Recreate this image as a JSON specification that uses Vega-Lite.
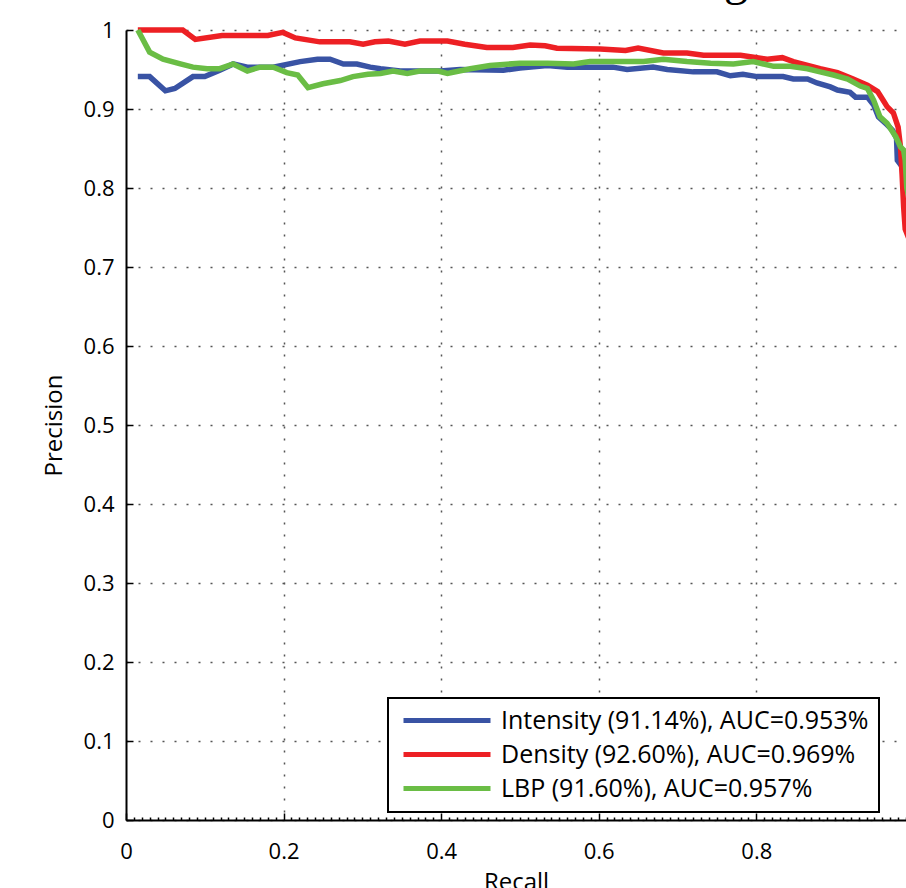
{
  "$schema": "https://vega.github.io/schema/vega-lite/v6.json",
  "autosize": {"type": "none"},
  "padding": {"left": 126, "top": 30, "right": 0, "bottom": 68},
  "width": 780,
  "height": 790,
  "background": "white",
  "title": {"text": "Precision-Recall Curve of Tracking", "anchor": "end", "frame": "group", "dx": -158, "offset": -24, "baseline": "alphabetic", "font": "Liberation Serif", "fontSize": 48, "fontWeight": "normal", "color": "black"},
  "data": {"values": [
    {"series": "Intensity (91.14%), AUC=0.953%", "recall": 0.015, "precision": 0.941},
    {"series": "Intensity (91.14%), AUC=0.953%", "recall": 0.030, "precision": 0.941},
    {"series": "Intensity (91.14%), AUC=0.953%", "recall": 0.050, "precision": 0.923},
    {"series": "Intensity (91.14%), AUC=0.953%", "recall": 0.062, "precision": 0.926},
    {"series": "Intensity (91.14%), AUC=0.953%", "recall": 0.085, "precision": 0.941},
    {"series": "Intensity (91.14%), AUC=0.953%", "recall": 0.100, "precision": 0.941},
    {"series": "Intensity (91.14%), AUC=0.953%", "recall": 0.119, "precision": 0.949},
    {"series": "Intensity (91.14%), AUC=0.953%", "recall": 0.136, "precision": 0.957},
    {"series": "Intensity (91.14%), AUC=0.953%", "recall": 0.154, "precision": 0.953},
    {"series": "Intensity (91.14%), AUC=0.953%", "recall": 0.187, "precision": 0.953},
    {"series": "Intensity (91.14%), AUC=0.953%", "recall": 0.221, "precision": 0.960},
    {"series": "Intensity (91.14%), AUC=0.953%", "recall": 0.243, "precision": 0.963},
    {"series": "Intensity (91.14%), AUC=0.953%", "recall": 0.259, "precision": 0.963},
    {"series": "Intensity (91.14%), AUC=0.953%", "recall": 0.276, "precision": 0.957},
    {"series": "Intensity (91.14%), AUC=0.953%", "recall": 0.293, "precision": 0.957},
    {"series": "Intensity (91.14%), AUC=0.953%", "recall": 0.310, "precision": 0.953},
    {"series": "Intensity (91.14%), AUC=0.953%", "recall": 0.323, "precision": 0.951},
    {"series": "Intensity (91.14%), AUC=0.953%", "recall": 0.348, "precision": 0.948},
    {"series": "Intensity (91.14%), AUC=0.953%", "recall": 0.399, "precision": 0.948},
    {"series": "Intensity (91.14%), AUC=0.953%", "recall": 0.424, "precision": 0.950},
    {"series": "Intensity (91.14%), AUC=0.953%", "recall": 0.479, "precision": 0.949},
    {"series": "Intensity (91.14%), AUC=0.953%", "recall": 0.500, "precision": 0.952},
    {"series": "Intensity (91.14%), AUC=0.953%", "recall": 0.535, "precision": 0.955},
    {"series": "Intensity (91.14%), AUC=0.953%", "recall": 0.560, "precision": 0.953},
    {"series": "Intensity (91.14%), AUC=0.953%", "recall": 0.618, "precision": 0.953},
    {"series": "Intensity (91.14%), AUC=0.953%", "recall": 0.636, "precision": 0.950},
    {"series": "Intensity (91.14%), AUC=0.953%", "recall": 0.669, "precision": 0.953},
    {"series": "Intensity (91.14%), AUC=0.953%", "recall": 0.687, "precision": 0.950},
    {"series": "Intensity (91.14%), AUC=0.953%", "recall": 0.720, "precision": 0.947},
    {"series": "Intensity (91.14%), AUC=0.953%", "recall": 0.750, "precision": 0.947},
    {"series": "Intensity (91.14%), AUC=0.953%", "recall": 0.767, "precision": 0.942},
    {"series": "Intensity (91.14%), AUC=0.953%", "recall": 0.783, "precision": 0.944},
    {"series": "Intensity (91.14%), AUC=0.953%", "recall": 0.801, "precision": 0.941},
    {"series": "Intensity (91.14%), AUC=0.953%", "recall": 0.834, "precision": 0.941},
    {"series": "Intensity (91.14%), AUC=0.953%", "recall": 0.847, "precision": 0.938},
    {"series": "Intensity (91.14%), AUC=0.953%", "recall": 0.865, "precision": 0.938},
    {"series": "Intensity (91.14%), AUC=0.953%", "recall": 0.877, "precision": 0.933},
    {"series": "Intensity (91.14%), AUC=0.953%", "recall": 0.894, "precision": 0.928},
    {"series": "Intensity (91.14%), AUC=0.953%", "recall": 0.903, "precision": 0.924},
    {"series": "Intensity (91.14%), AUC=0.953%", "recall": 0.919, "precision": 0.921},
    {"series": "Intensity (91.14%), AUC=0.953%", "recall": 0.926, "precision": 0.915},
    {"series": "Intensity (91.14%), AUC=0.953%", "recall": 0.941, "precision": 0.915},
    {"series": "Intensity (91.14%), AUC=0.953%", "recall": 0.949, "precision": 0.905},
    {"series": "Intensity (91.14%), AUC=0.953%", "recall": 0.955, "precision": 0.890},
    {"series": "Intensity (91.14%), AUC=0.953%", "recall": 0.966, "precision": 0.880},
    {"series": "Intensity (91.14%), AUC=0.953%", "recall": 0.973, "precision": 0.873},
    {"series": "Intensity (91.14%), AUC=0.953%", "recall": 0.978, "precision": 0.863},
    {"series": "Intensity (91.14%), AUC=0.953%", "recall": 0.979, "precision": 0.835},
    {"series": "Intensity (91.14%), AUC=0.953%", "recall": 0.985, "precision": 0.827},
    {"series": "Intensity (91.14%), AUC=0.953%", "recall": 1.000, "precision": 0.790},
    {"series": "Density (92.60%), AUC=0.969%", "recall": 0.015, "precision": 1.000},
    {"series": "Density (92.60%), AUC=0.969%", "recall": 0.072, "precision": 1.000},
    {"series": "Density (92.60%), AUC=0.969%", "recall": 0.088, "precision": 0.988},
    {"series": "Density (92.60%), AUC=0.969%", "recall": 0.122, "precision": 0.993},
    {"series": "Density (92.60%), AUC=0.969%", "recall": 0.180, "precision": 0.993},
    {"series": "Density (92.60%), AUC=0.969%", "recall": 0.199, "precision": 0.997},
    {"series": "Density (92.60%), AUC=0.969%", "recall": 0.215, "precision": 0.990},
    {"series": "Density (92.60%), AUC=0.969%", "recall": 0.246, "precision": 0.985},
    {"series": "Density (92.60%), AUC=0.969%", "recall": 0.284, "precision": 0.985},
    {"series": "Density (92.60%), AUC=0.969%", "recall": 0.301, "precision": 0.982},
    {"series": "Density (92.60%), AUC=0.969%", "recall": 0.316, "precision": 0.985},
    {"series": "Density (92.60%), AUC=0.969%", "recall": 0.333, "precision": 0.986},
    {"series": "Density (92.60%), AUC=0.969%", "recall": 0.354, "precision": 0.982},
    {"series": "Density (92.60%), AUC=0.969%", "recall": 0.373, "precision": 0.986},
    {"series": "Density (92.60%), AUC=0.969%", "recall": 0.408, "precision": 0.986},
    {"series": "Density (92.60%), AUC=0.969%", "recall": 0.430, "precision": 0.982},
    {"series": "Density (92.60%), AUC=0.969%", "recall": 0.458, "precision": 0.978},
    {"series": "Density (92.60%), AUC=0.969%", "recall": 0.491, "precision": 0.978},
    {"series": "Density (92.60%), AUC=0.969%", "recall": 0.513, "precision": 0.981},
    {"series": "Density (92.60%), AUC=0.969%", "recall": 0.532, "precision": 0.980},
    {"series": "Density (92.60%), AUC=0.969%", "recall": 0.547, "precision": 0.977},
    {"series": "Density (92.60%), AUC=0.969%", "recall": 0.602, "precision": 0.976},
    {"series": "Density (92.60%), AUC=0.969%", "recall": 0.634, "precision": 0.974},
    {"series": "Density (92.60%), AUC=0.969%", "recall": 0.650, "precision": 0.977},
    {"series": "Density (92.60%), AUC=0.969%", "recall": 0.682, "precision": 0.971},
    {"series": "Density (92.60%), AUC=0.969%", "recall": 0.712, "precision": 0.971},
    {"series": "Density (92.60%), AUC=0.969%", "recall": 0.733, "precision": 0.968},
    {"series": "Density (92.60%), AUC=0.969%", "recall": 0.780, "precision": 0.968},
    {"series": "Density (92.60%), AUC=0.969%", "recall": 0.814, "precision": 0.963},
    {"series": "Density (92.60%), AUC=0.969%", "recall": 0.833, "precision": 0.965},
    {"series": "Density (92.60%), AUC=0.969%", "recall": 0.847, "precision": 0.960},
    {"series": "Density (92.60%), AUC=0.969%", "recall": 0.881, "precision": 0.951},
    {"series": "Density (92.60%), AUC=0.969%", "recall": 0.903, "precision": 0.946},
    {"series": "Density (92.60%), AUC=0.969%", "recall": 0.923, "precision": 0.938},
    {"series": "Density (92.60%), AUC=0.969%", "recall": 0.941, "precision": 0.930},
    {"series": "Density (92.60%), AUC=0.969%", "recall": 0.954, "precision": 0.922},
    {"series": "Density (92.60%), AUC=0.969%", "recall": 0.961, "precision": 0.911},
    {"series": "Density (92.60%), AUC=0.969%", "recall": 0.966, "precision": 0.903},
    {"series": "Density (92.60%), AUC=0.969%", "recall": 0.974, "precision": 0.895},
    {"series": "Density (92.60%), AUC=0.969%", "recall": 0.980, "precision": 0.877},
    {"series": "Density (92.60%), AUC=0.969%", "recall": 0.983, "precision": 0.852},
    {"series": "Density (92.60%), AUC=0.969%", "recall": 0.985, "precision": 0.818},
    {"series": "Density (92.60%), AUC=0.969%", "recall": 0.987, "precision": 0.776},
    {"series": "Density (92.60%), AUC=0.969%", "recall": 0.989, "precision": 0.748},
    {"series": "Density (92.60%), AUC=0.969%", "recall": 1.000, "precision": 0.720},
    {"series": "LBP (91.60%), AUC=0.957%", "recall": 0.015, "precision": 1.000},
    {"series": "LBP (91.60%), AUC=0.957%", "recall": 0.030, "precision": 0.972},
    {"series": "LBP (91.60%), AUC=0.957%", "recall": 0.047, "precision": 0.963},
    {"series": "LBP (91.60%), AUC=0.957%", "recall": 0.069, "precision": 0.957},
    {"series": "LBP (91.60%), AUC=0.957%", "recall": 0.085, "precision": 0.953},
    {"series": "LBP (91.60%), AUC=0.957%", "recall": 0.103, "precision": 0.951},
    {"series": "LBP (91.60%), AUC=0.957%", "recall": 0.119, "precision": 0.951},
    {"series": "LBP (91.60%), AUC=0.957%", "recall": 0.136, "precision": 0.957},
    {"series": "LBP (91.60%), AUC=0.957%", "recall": 0.154, "precision": 0.948},
    {"series": "LBP (91.60%), AUC=0.957%", "recall": 0.170, "precision": 0.953},
    {"series": "LBP (91.60%), AUC=0.957%", "recall": 0.187, "precision": 0.953},
    {"series": "LBP (91.60%), AUC=0.957%", "recall": 0.204, "precision": 0.946},
    {"series": "LBP (91.60%), AUC=0.957%", "recall": 0.218, "precision": 0.943},
    {"series": "LBP (91.60%), AUC=0.957%", "recall": 0.231, "precision": 0.927},
    {"series": "LBP (91.60%), AUC=0.957%", "recall": 0.250, "precision": 0.932},
    {"series": "LBP (91.60%), AUC=0.957%", "recall": 0.272, "precision": 0.936},
    {"series": "LBP (91.60%), AUC=0.957%", "recall": 0.288, "precision": 0.941},
    {"series": "LBP (91.60%), AUC=0.957%", "recall": 0.307, "precision": 0.944},
    {"series": "LBP (91.60%), AUC=0.957%", "recall": 0.323, "precision": 0.945},
    {"series": "LBP (91.60%), AUC=0.957%", "recall": 0.339, "precision": 0.948},
    {"series": "LBP (91.60%), AUC=0.957%", "recall": 0.357, "precision": 0.945},
    {"series": "LBP (91.60%), AUC=0.957%", "recall": 0.373, "precision": 0.948},
    {"series": "LBP (91.60%), AUC=0.957%", "recall": 0.396, "precision": 0.948},
    {"series": "LBP (91.60%), AUC=0.957%", "recall": 0.408, "precision": 0.945},
    {"series": "LBP (91.60%), AUC=0.957%", "recall": 0.437, "precision": 0.951},
    {"series": "LBP (91.60%), AUC=0.957%", "recall": 0.462, "precision": 0.955},
    {"series": "LBP (91.60%), AUC=0.957%", "recall": 0.500, "precision": 0.958},
    {"series": "LBP (91.60%), AUC=0.957%", "recall": 0.535, "precision": 0.958},
    {"series": "LBP (91.60%), AUC=0.957%", "recall": 0.568, "precision": 0.957},
    {"series": "LBP (91.60%), AUC=0.957%", "recall": 0.589, "precision": 0.960},
    {"series": "LBP (91.60%), AUC=0.957%", "recall": 0.657, "precision": 0.960},
    {"series": "LBP (91.60%), AUC=0.957%", "recall": 0.682, "precision": 0.963},
    {"series": "LBP (91.60%), AUC=0.957%", "recall": 0.712, "precision": 0.960},
    {"series": "LBP (91.60%), AUC=0.957%", "recall": 0.742, "precision": 0.958},
    {"series": "LBP (91.60%), AUC=0.957%", "recall": 0.771, "precision": 0.957},
    {"series": "LBP (91.60%), AUC=0.957%", "recall": 0.796, "precision": 0.960},
    {"series": "LBP (91.60%), AUC=0.957%", "recall": 0.822, "precision": 0.954},
    {"series": "LBP (91.60%), AUC=0.957%", "recall": 0.843, "precision": 0.954},
    {"series": "LBP (91.60%), AUC=0.957%", "recall": 0.865, "precision": 0.951},
    {"series": "LBP (91.60%), AUC=0.957%", "recall": 0.881, "precision": 0.947},
    {"series": "LBP (91.60%), AUC=0.957%", "recall": 0.898, "precision": 0.943},
    {"series": "LBP (91.60%), AUC=0.957%", "recall": 0.916, "precision": 0.938},
    {"series": "LBP (91.60%), AUC=0.957%", "recall": 0.932, "precision": 0.929},
    {"series": "LBP (91.60%), AUC=0.957%", "recall": 0.941, "precision": 0.926},
    {"series": "LBP (91.60%), AUC=0.957%", "recall": 0.949, "precision": 0.911},
    {"series": "LBP (91.60%), AUC=0.957%", "recall": 0.957, "precision": 0.890},
    {"series": "LBP (91.60%), AUC=0.957%", "recall": 0.966, "precision": 0.882},
    {"series": "LBP (91.60%), AUC=0.957%", "recall": 0.977, "precision": 0.865},
    {"series": "LBP (91.60%), AUC=0.957%", "recall": 0.983, "precision": 0.852},
    {"series": "LBP (91.60%), AUC=0.957%", "recall": 0.987, "precision": 0.848},
    {"series": "LBP (91.60%), AUC=0.957%", "recall": 0.989, "precision": 0.835},
    {"series": "LBP (91.60%), AUC=0.957%", "recall": 0.991, "precision": 0.800},
    {"series": "LBP (91.60%), AUC=0.957%", "recall": 1.000, "precision": 0.760}
  ]},
  "mark": {"type": "line", "strokeWidth": 5.5},
  "encoding": {
    "x": {
      "field": "recall", "type": "quantitative",
      "scale": {"domain": [0, 0.99], "nice": false, "zero": false},
      "axis": {
        "title": "Recall",
        "values": [0,0.01,0.02,0.03,0.04,0.05,0.06,0.07,0.08,0.09,0.1,0.11,0.12,0.13,0.14,0.15,0.16,0.17,0.18,0.19,0.2,0.21,0.22,0.23,0.24,0.25,0.26,0.27,0.28,0.29,0.3,0.31,0.32,0.33,0.34,0.35,0.36,0.37,0.38,0.39,0.4,0.41,0.42,0.43,0.44,0.45,0.46,0.47,0.48,0.49,0.5,0.51,0.52,0.53,0.54,0.55,0.56,0.57,0.58,0.59,0.6,0.61,0.62,0.63,0.64,0.65,0.66,0.67,0.68,0.69,0.7,0.71,0.72,0.73,0.74,0.75,0.76,0.77,0.78,0.79,0.8,0.81,0.82,0.83,0.84,0.85,0.86,0.87,0.88,0.89,0.9,0.91,0.92,0.93,0.94,0.95,0.96,0.97,0.98,0.99],
        "labelExpr": "abs(datum.value*5 - round(datum.value*5)) < 0.000001 ? format(datum.value, '~g') : ''",
        "tickSize": {"condition": {"test": "abs(datum.value*5 - round(datum.value*5)) < 0.000001", "value": -7}, "value": -3},
        "gridOpacity": {"condition": {"test": "abs(datum.value*5 - round(datum.value*5)) < 0.000001 && datum.value > 0", "value": 1}, "value": 0},
        "labelFlush": false,
        "labelPadding": 28,
        "titlePadding": 8,
        "titleFontSize": 24
      }
    },
    "y": {
      "field": "precision", "type": "quantitative",
      "scale": {"domain": [0, 1], "nice": false, "zero": false},
      "axis": {
        "title": "Precision",
        "values": [0,0.1,0.2,0.3,0.4,0.5,0.6,0.7,0.8,0.9,1],
        "format": "~g",
        "labelFlush": false,
        "tickSize": -7,
        "labelPadding": 19,
        "titlePadding": 17,
        "titleFontSize": 24
      }
    },
    "color": {
      "field": "series", "type": "nominal",
      "scale": {
        "domain": ["Intensity (91.14%), AUC=0.953%", "Density (92.60%), AUC=0.969%", "LBP (91.60%), AUC=0.957%"],
        "range": ["#3953A4", "#ED2024", "#6ABD45"]
      },
      "legend": {
        "orient": "none", "legendX": 262, "legendY": 668, "title": null,
        "symbolType": "stroke", "symbolSize": 7569, "symbolStrokeWidth": 5,
        "clipHeight": 25, "symbolOffset": 3,
        "labelFont": "Open Sans", "labelFontSize": 25, "labelColor": "black",
        "labelOffset": 8, "padding": 10, "rowPadding": 8,
        "strokeColor": "black", "fillColor": "white", "labelLimit": 600
      }
    }
  },
  "config": {
    "view": {"stroke": null},
    "legend": {"strokeWidth": 2},
    "axis": {
      "grid": true, "gridDash": [2, 10], "gridColor": "#555", "gridWidth": 1.5,
      "domainColor": "black", "domainWidth": 2,
      "tickColor": "black", "tickWidth": 1.5,
      "labelFont": "Open Sans", "labelFontSize": 22, "labelColor": "black",
      "titleFont": "Open Sans", "titleFontSize": 22, "titleFontWeight": "normal", "titleColor": "black"
    }
  }
}
